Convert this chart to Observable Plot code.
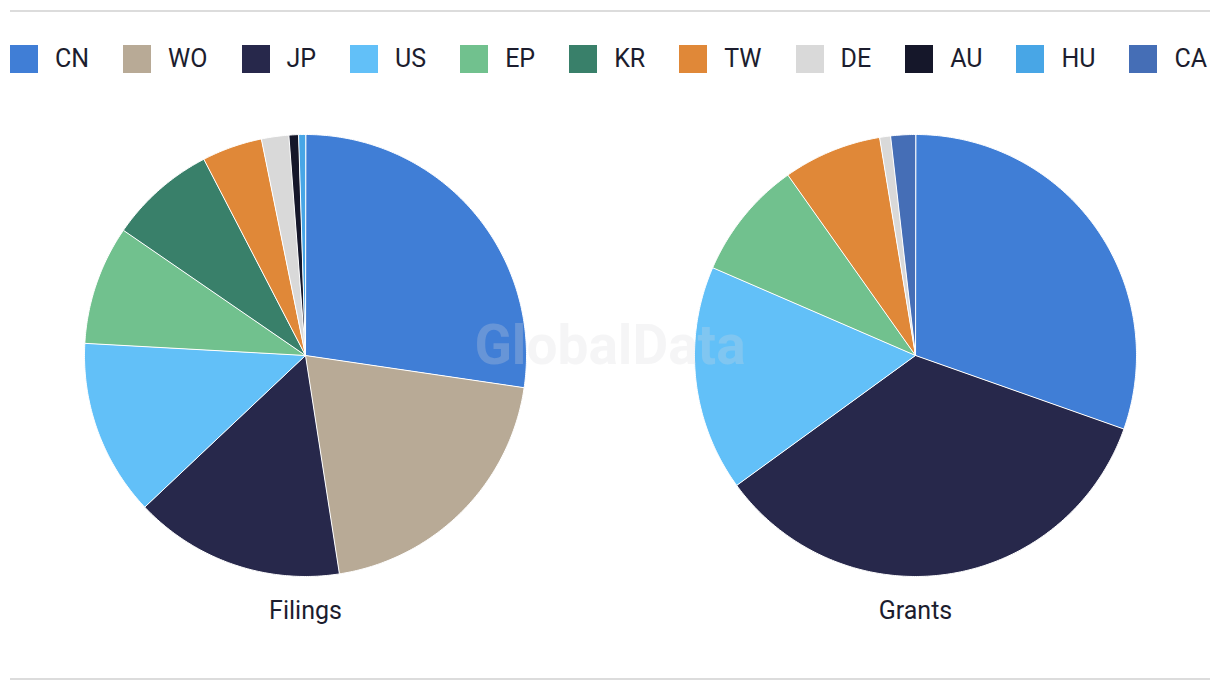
<!DOCTYPE html>
<html>
<head>
<meta charset="utf-8">
<script src="https://cdn.jsdelivr.net/npm/d3@7"></script>
<script src="https://cdn.jsdelivr.net/npm/@observablehq/plot@0.6"></script>
<style>
  body { margin: 0; background: #fff; font-family: Roboto, "Noto Sans", sans-serif; }
  #wrap { position: relative; width: 1220px; height: 690px; overflow: hidden; background: #fff; }
  .rule { position: absolute; left: 10px; width: 1200px; height: 2px; background: #dcdcdc; }
  #legend { position: absolute; left: 10px; top: 45px; display: flex; align-items: center; }
  .item { display: flex; align-items: center; margin-right: 34px; }
  .sw { width: 28px; height: 28px; margin-right: 17px; }
  .lab { font-size: 25px; color: #1c1d2e; line-height: 28px; }
  #chart { position: absolute; left: 0; top: 85px; }
  #wm { position: absolute; left: 0; width: 1220px; top: 316px; text-align: center; font-weight: 700;
        font-size: 55px; line-height: 58px; color: rgba(215,215,220,0.26); pointer-events: none; }
</style>
</head>
<body>
<div id="wrap">
  <div class="rule" style="top:10px"></div>
  <div id="legend"></div>
  <div id="chart"></div>
  <div id="wm">GlobalData</div>
  <div class="rule" style="top:678px"></div>
</div>
<script>
const countries = ["CN", "WO", "JP", "US", "EP", "KR", "TW", "DE", "AU", "HU", "CA"];
const colors = ["#407ed6", "#b8aa96", "#27284b", "#62c0f8", "#71c18e", "#39806a", "#e08838", "#d9d9d9", "#15172a", "#48a6e6", "#456eb6"];
const charts = ["Filings", "Grants"];
const filingsKeys = ["CN", "WO", "JP", "US", "EP", "KR", "TW", "DE", "AU", "HU"];
const filingsValues = [27.3, 20.2, 15.4, 12.9, 8.7, 7.8, 4.4, 2.0, 0.7, 0.5];
const grantsKeys = ["CN", "JP", "US", "EP", "TW", "DE", "CA"];
const grantsValues = [30.4, 34.6, 16.5, 8.7, 7.2, 0.8, 1.8];

// legend
const legend = document.getElementById("legend");
countries.forEach((c, i) => {
  const it = document.createElement("div"); it.className = "item";
  const sw = document.createElement("div"); sw.className = "sw"; sw.style.background = colors[i];
  const lb = document.createElement("span"); lb.className = "lab"; lb.textContent = c;
  it.appendChild(sw); it.appendChild(lb); legend.appendChild(it);
});

function slices(chart, keys, values) {
  const arcs = d3.pie().sort(null).value(d => d)(values);
  const pts = [];
  arcs.forEach((a, i) => {
    const id = chart + "-" + keys[i];
    pts.push({chart, key: keys[i], id, x: 0, y: 0});
    const n = Math.max(2, Math.ceil((a.endAngle - a.startAngle) / 0.01));
    for (let j = 0; j <= n; j++) {
      const t = a.startAngle + (a.endAngle - a.startAngle) * j / n;
      pts.push({chart, key: keys[i], id, x: Math.sin(t), y: Math.cos(t)});
    }
  });
  return pts;
}
const pts = slices("Filings", filingsKeys, filingsValues).concat(slices("Grants", grantsKeys, grantsValues));

const R = 221, W = 1220, H = 575, MB = 70, CY = 270;
const plot = Plot.plot({
  width: W, height: H,
  marginLeft: 0, marginRight: 0, marginTop: 0, marginBottom: MB,
  facet: {data: pts, x: "chart"},
  fx: {domain: charts, padding: 0, axis: "bottom", tickSize: 0, tickPadding: 11, label: null},
  x: {domain: [-(W / 4) / R, (W / 4) / R], axis: null},
  y: {domain: [-(H - MB - CY) / R, CY / R], axis: null},
  color: {domain: countries, range: colors},
  style: {fontFamily: "Roboto, sans-serif", fontSize: "25px", color: "#1c1d2e", background: "transparent", overflow: "visible"},
  marks: [
    Plot.line(pts, {x: "x", y: "y", z: "id", fill: "key", stroke: "white", strokeWidth: 1, curve: "linear-closed"})
  ]
});
document.getElementById("chart").appendChild(plot);
</script>
</body>
</html>
